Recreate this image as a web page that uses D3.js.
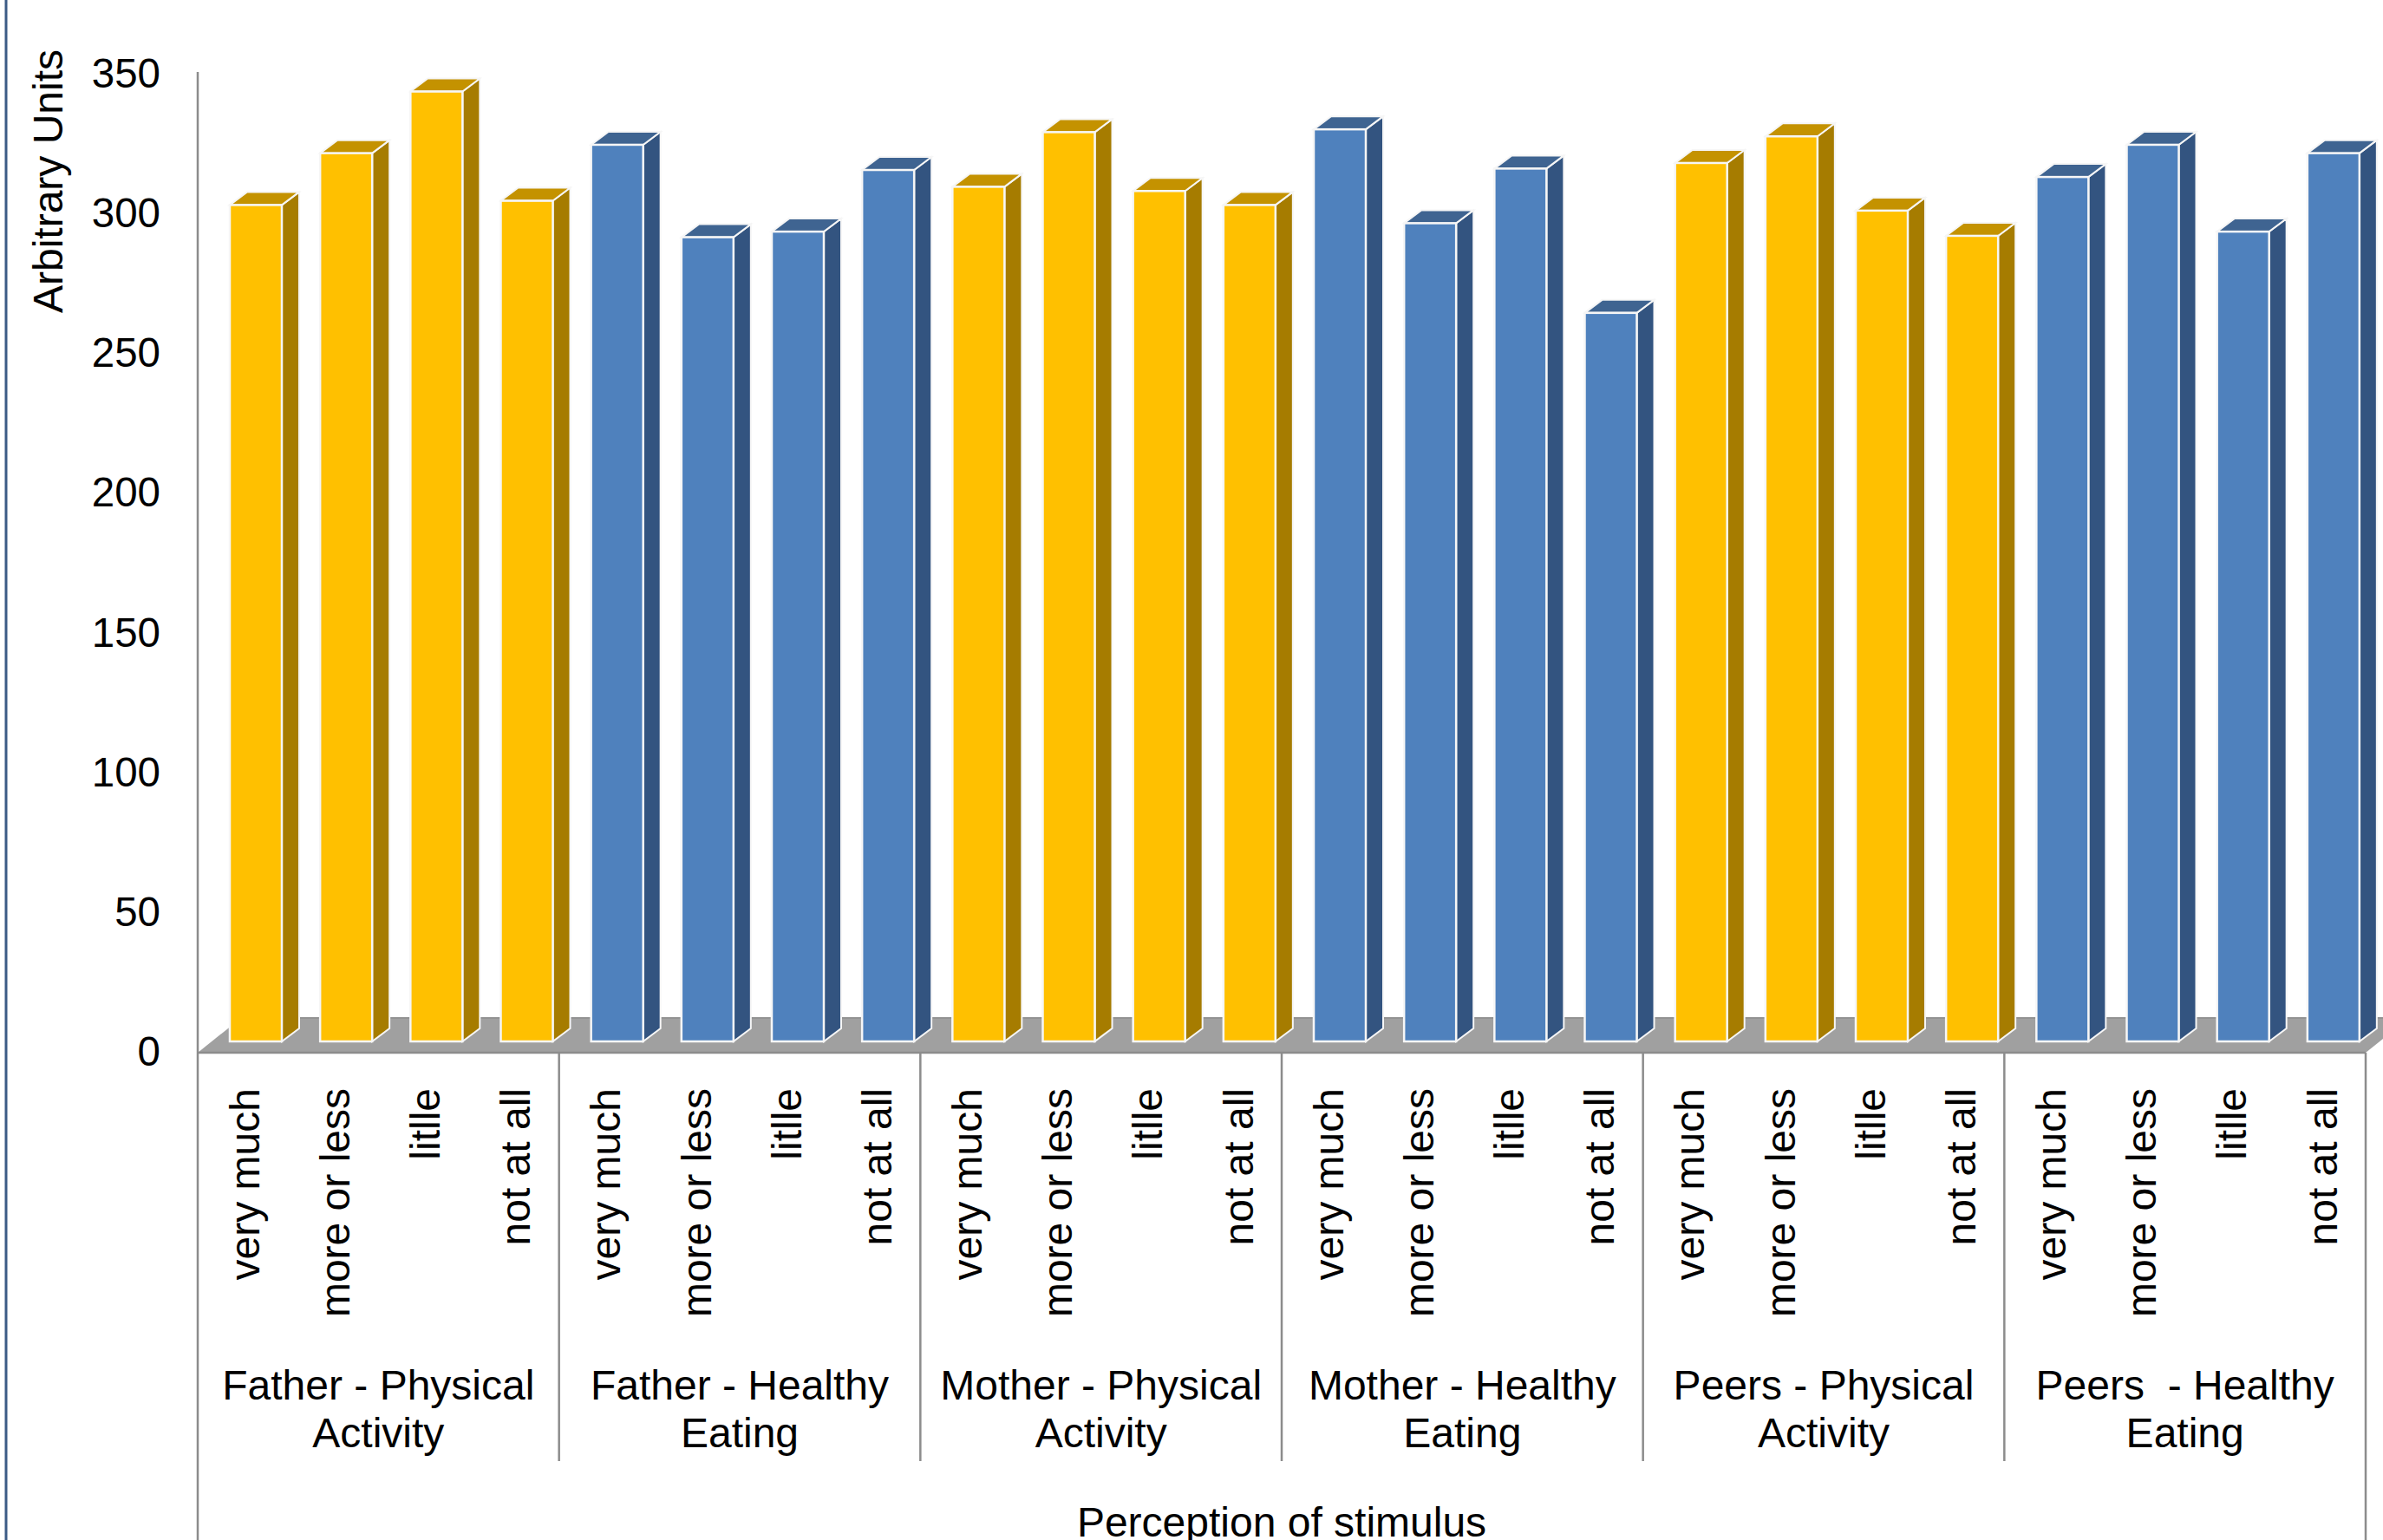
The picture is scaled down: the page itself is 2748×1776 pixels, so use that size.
<!DOCTYPE html>
<html>
<head>
<meta charset="utf-8">
<title>Perception of stimulus</title>
<script src="https://cdn.jsdelivr.net/npm/d3@7"></script>
<style>
    html, body { margin: 0; padding: 0; background: #fff; }
    svg { display: block; }
    text { font-family: "Liberation Sans", Arial, sans-serif; font-size: 48px; fill: #000; white-space: pre; }
</style>
</head>
<body>
<div id="chart"></div>
<script>
// --- Data ---
const levels = ["very much", "more or less", "litlle", "not at all"];
const groupNames = [
    ["Father - Physical", "Activity"],
    ["Father - Healthy", "Eating"],
    ["Mother - Physical", "Activity"],
    ["Mother - Healthy", "Eating"],
    ["Peers - Physical", "Activity"],
    ["Peers  - Healthy", "Eating"]
];
const fatherPhysical = [298.5, 317, 339, 300];
const fatherHealthy = [320, 287, 289, 311];
const motherPhysical = [305, 324.5, 303.5, 298.5];
const motherHealthy = [325.5, 292, 311.5, 260];
const peersPhysical = [313.5, 323, 296.5, 287.5];
const peersHealthy = [308.5, 320, 289, 317];
const groupValues = [fatherPhysical, fatherHealthy, motherPhysical, motherHealthy, peersPhysical, peersHealthy];
const yTicks = [0, 50, 100, 150, 200, 250, 300, 350];

// --- Colours for the two kinds of group ---
const yellow = { front: "#FFC000", side: "#A67C00", top: "#C49200" };
const blue = { front: "#4F81BD", side: "#335480", top: "#3F6491" };

const width = 2748, height = 1776;
const plotLeft = 228, plotRight = 2728;
const depthX = 20, depthY = 15;     // depth of one bar
const floorX = 50, floorY = 40;     // depth of the floor
const axisColor = "#8C8C8C";
const edgeColor = "#F6F6F6";

const bars = groupValues.flatMap((vals, g) => vals.map((v, i) => ({
    key: g * levels.length + i,
    group: g,
    level: levels[i],
    value: v,
    colors: g % 2 === 0 ? yellow : blue
})));

const svg = d3.select("#chart").append("svg")
    .attr("width", width)
    .attr("height", height);

// --- Scales ---
const xBand = d3.scaleBand().domain(bars.map(d => d.key)).range([plotLeft, plotRight]);
const xGroup = d3.scaleBand().domain(groupNames.map((d, i) => i)).range([plotLeft, plotRight]);
const yWall = d3.scaleLinear().domain([0, 350]).range([1213.5, 85]);  // tick labels
const yBar = d3.scaleLinear().domain([0, 350]).range([1201, 70]);     // front face of bars

const barOffset = 37, barWidth = 60;

// Left border of the page
svg.append("line")
    .attr("x1", 7).attr("x2", 7).attr("y1", 0).attr("y2", height)
    .attr("stroke", "#3B5B85").attr("stroke-width", 3);

// Floor
const floorFront = 1214, floorBack = floorFront - floorY;
svg.append("path")
    .attr("d", `M${plotLeft},${floorFront}L${plotRight},${floorFront}L${plotRight + floorX},${floorBack}L${plotLeft + floorX},${floorBack}Z`)
    .attr("fill", "#A0A0A0");
svg.append("line")
    .attr("x1", plotLeft + floorX).attr("x2", width).attr("y1", floorBack).attr("y2", floorBack)
    .attr("stroke", "#929292").attr("stroke-width", 2);

// Axis lines
svg.append("line")
    .attr("x1", plotLeft).attr("x2", plotLeft).attr("y1", 83).attr("y2", height)
    .attr("stroke", axisColor).attr("stroke-width", 2.5);
svg.append("line")
    .attr("x1", plotRight).attr("x2", plotRight).attr("y1", floorFront).attr("y2", height)
    .attr("stroke", axisColor).attr("stroke-width", 2.5);
svg.append("line")
    .attr("x1", plotLeft).attr("x2", plotRight).attr("y1", floorFront).attr("y2", floorFront)
    .attr("stroke", axisColor).attr("stroke-width", 2.5);

// Separators between groups
svg.selectAll(".sep").data(d3.range(1, groupNames.length)).enter().append("line")
    .attr("class", "sep")
    .attr("x1", d => xGroup(d)).attr("x2", d => xGroup(d))
    .attr("y1", floorFront).attr("y2", 1685)
    .attr("stroke", axisColor).attr("stroke-width", 2.5);

// Y axis
const yAxis = d3.axisLeft(yWall).tickValues(yTicks).tickSize(0).tickPadding(43);
const yG = svg.append("g").attr("transform", `translate(${plotLeft},0)`).call(yAxis);
yG.select(".domain").remove();
yG.selectAll("text").style("font-size", "47.5px").style("font-family", '"Liberation Sans", Arial, sans-serif').attr("fill", "#000");

svg.append("text")
    .attr("transform", "translate(55,209) rotate(-90)")
    .attr("text-anchor", "middle")
    .attr("dy", "0.35em")
    .text("Arbitrary Units");

// Bars: front, side and top faces
const bar = svg.selectAll(".bar").data(bars).enter().append("g").attr("class", "bar");

bar.append("path")
    .attr("d", d => {
        const r = xBand(d.key) + barOffset + barWidth, t = yBar(d.value), b = yBar(0);
        return `M${r},${t}L${r + depthX},${t - depthY}L${r + depthX},${b - depthY}L${r},${b}Z`;
    })
    .attr("fill", d => d.colors.side)
    .attr("stroke", edgeColor).attr("stroke-width", 2);

bar.append("path")
    .attr("d", d => {
        const l = xBand(d.key) + barOffset, r = l + barWidth, t = yBar(d.value);
        return `M${l},${t}L${l + depthX},${t - depthY}L${r + depthX},${t - depthY}L${r},${t}Z`;
    })
    .attr("fill", d => d.colors.top)
    .attr("stroke", edgeColor).attr("stroke-width", 2);

bar.append("rect")
    .attr("x", d => xBand(d.key) + barOffset)
    .attr("y", d => yBar(d.value))
    .attr("width", barWidth)
    .attr("height", d => yBar(0) - yBar(d.value))
    .attr("fill", d => d.colors.front)
    .attr("stroke", edgeColor).attr("stroke-width", 2.5);

// Category labels
svg.selectAll(".level").data(bars).enter().append("text")
    .attr("class", "level")
    .attr("transform", d => `translate(${xBand(d.key) + 54},1255) rotate(-90)`)
    .attr("text-anchor", "end")
    .attr("dy", "0.35em")
    .text(d => d.level);

// Group labels, two lines each
const groupLabel = svg.selectAll(".group-label").data(groupNames).enter().append("text")
    .attr("class", "group-label")
    .attr("text-anchor", "middle");
groupLabel.selectAll("tspan").data((d, i) => d.map((line, n) => ({ line, n, i }))).enter().append("tspan")
    .attr("x", d => xGroup(d.i) + xGroup.bandwidth() / 2)
    .attr("y", d => 1597 + d.n * 55)
    .attr("dy", "0.35em")
    .text(d => d.line);

// Sits on the bottom edge, its descender is clipped as in the reference
svg.append("text")
    .attr("x", 1478).attr("y", 1755)
    .attr("text-anchor", "middle")
    .attr("dy", "0.35em")
    .text("Perception of stimulus");
</script>
</body>
</html>
